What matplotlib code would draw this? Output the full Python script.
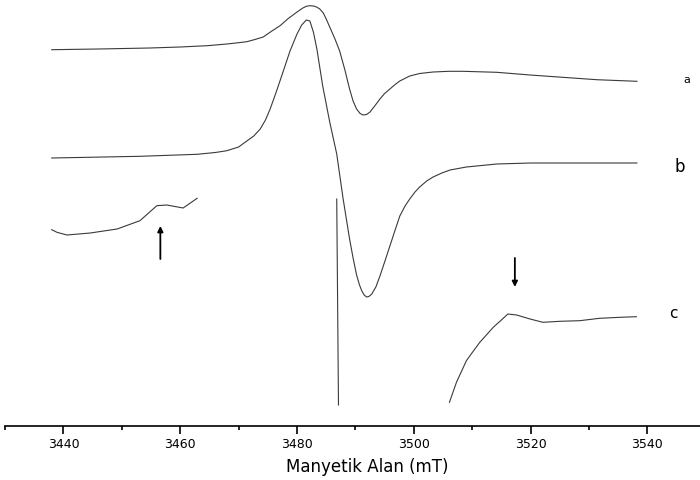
import numpy as np
import matplotlib.pyplot as plt

# EPR spectra, field in mT, intensity in arbitrary offset units
field_a = [3438.0, 3446.0, 3454.8, 3460.0, 3464.6, 3468.0, 3470.0, 3471.4, 3472.8,
           3474.2, 3475.7, 3477.1, 3478.5, 3480.0, 3481.0, 3481.6, 3482.2, 3482.9,
           3483.4, 3483.9, 3484.5, 3485.0, 3485.6, 3486.5, 3487.3, 3488.2, 3489.0,
           3489.6, 3490.2, 3490.8, 3491.3, 3491.9, 3492.5, 3493.3, 3494.2, 3495.0,
           3495.9, 3496.8, 3497.6, 3499.3, 3501.0, 3503.3, 3506.0, 3508.4, 3514.2,
           3519.9, 3525.5, 3531.3, 3538.2]
signal_a = [376.3, 377.0, 378.0, 379.0, 380.3, 382.0, 383.3, 384.3, 386.5,
            389.0, 395.0, 400.3, 407.5, 414.0, 418.0, 419.7, 420.3, 419.9,
            418.8, 417.0, 413.0, 407.0, 399.0, 387.0, 375.0, 356.0, 337.0,
            325.0, 317.0, 312.5, 311.0, 311.5, 314.0, 320.0, 327.0, 332.5,
            337.0, 341.5, 345.0, 350.0, 352.5, 354.0, 354.7, 354.7, 353.7,
            351.0, 348.7, 346.3, 344.7]

field_b = [3438.0, 3453.1, 3462.9, 3466.0, 3468.0, 3470.0, 3471.4, 3472.6, 3473.7,
           3474.6, 3475.4, 3476.5, 3477.6, 3478.8, 3480.0, 3480.8, 3481.6, 3482.2,
           3482.8, 3483.4, 3484.4, 3485.6, 3486.8, 3487.9, 3489.0, 3489.6, 3490.2,
           3490.7, 3491.1, 3491.5, 3491.9, 3492.3, 3492.8, 3493.5, 3494.2, 3495.0,
           3495.9, 3496.8, 3497.6, 3498.5, 3499.3, 3500.2, 3501.0, 3502.2, 3503.3,
           3504.8, 3506.2, 3509.0, 3514.2, 3520.0, 3538.2]
signal_b = [268.0, 269.7, 271.7, 273.5, 275.3, 279.0, 285.0, 290.0, 297.0,
            306.0, 317.0, 335.0, 354.0, 375.0, 392.0, 401.0, 406.0, 405.0,
            394.0, 377.0, 340.0, 304.0, 272.0, 227.0, 187.0, 168.0, 151.0,
            141.0, 135.0, 131.0, 129.0, 129.5, 132.0, 139.0, 150.0, 164.0,
            180.0, 196.0, 210.0, 220.0, 227.0, 234.0, 239.0, 245.0, 249.0,
            253.0, 256.0, 259.0, 262.0, 263.0, 263.0]

# spectrum c is recorded in three pieces
field_c = [3438.0, 3438.9, 3440.6, 3444.6, 3449.2, 3453.1, 3456.0, 3457.7, 3460.5, 3462.9,
           np.nan, 3486.8, 3487.1,
           np.nan, 3506.1, 3507.3, 3509.0, 3510.2, 3511.3, 3512.5, 3513.6, 3514.9,
           3516.1, 3517.6, 3519.9, 3522.1, 3525.0, 3528.4, 3531.8, 3535.3, 3538.1]
signal_c = [196.3, 193.7, 191.0, 193.0, 197.0, 205.3, 220.3, 221.0, 218.0, 227.7,
            np.nan, 227.0, 21.0,
            np.nan, 23.7, 43.7, 65.3, 75.0, 83.7, 91.5, 98.7, 105.5,
            112.0, 111.0, 107.0, 103.7, 104.7, 105.3, 107.7, 108.7, 109.3]

# arrows marking the weak features on c: (field, tail, head)
arrows = [(3456.6, 167, 200), (3517.3, 168, 139)]

labels = ["a", "b", "c"]
label_field = [3546.7, 3545.6, 3544.5]
label_y = [347, 260, 113]
label_size = [8, 12, 11]

fig = plt.figure(figsize=(7, 4.81), dpi=100)
ax = fig.add_axes([5 / 700, 54 / 481, 695 / 700, 427 / 481])

line_col = "#3a3a3a"
ax.plot(field_a, signal_a, color=line_col, lw=0.8)
ax.plot(field_b, signal_b, color=line_col, lw=0.8)
ax.plot(field_c, signal_c, color=line_col, lw=0.8)

for fx, y0, y1 in arrows:
    ax.annotate("", xy=(fx, y1), xytext=(fx, y0),
                arrowprops=dict(arrowstyle="-|>", color="black", lw=1.3,
                                mutation_scale=8, shrinkA=0, shrinkB=0))

for lab, fx, fy, fs in zip(labels, label_field, label_y, label_size):
    ax.text(fx, fy, lab, fontsize=fs, ha="center", va="center", color="black")

ax.set_xlim(3430, 3549)
ax.set_ylim(0, 427)
for side in ["left", "right", "top"]:
    ax.spines[side].set_visible(False)
ax.spines["bottom"].set_linewidth(1.2)
ax.set_yticks([])
ax.set_xticks(np.arange(3440, 3541, 20))
ax.set_xticks(np.arange(3430, 3550, 20), minor=True)
ax.tick_params(axis="x", which="major", length=6, width=1.2, labelsize=9, pad=2)
ax.tick_params(axis="x", which="minor", length=3, width=1.2)
ax.set_xlabel("Manyetik Alan (mT)", fontsize=12)
ax.xaxis.set_label_coords(0.521, -0.094)
ax.xaxis.label.set_va("center")

fig.savefig("out.png", dpi=100)
